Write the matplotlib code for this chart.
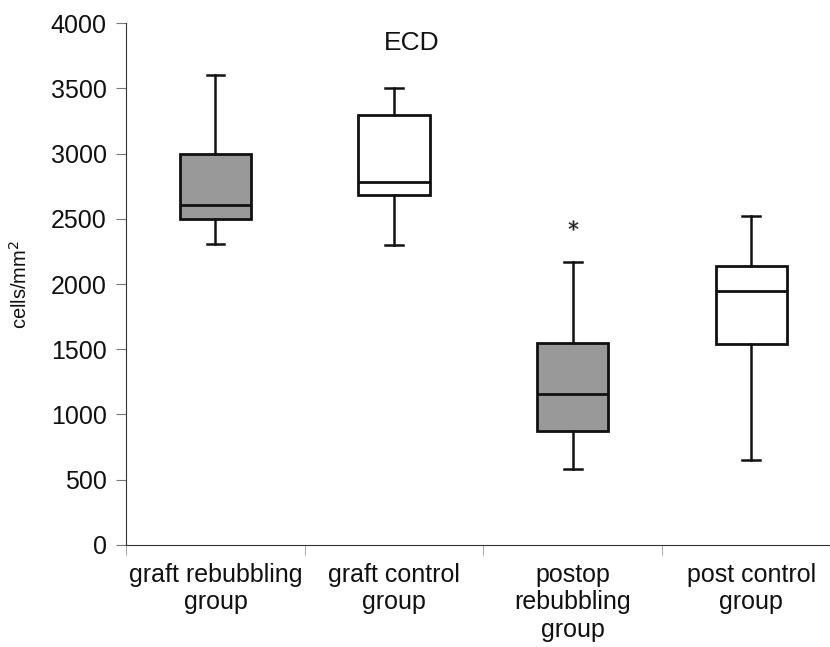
import matplotlib
matplotlib.use("Agg")
import matplotlib.pyplot as plt

plt.rcParams["font.family"] = ["Liberation Sans", "DejaVu Sans"]

# group names and box statistics (cells/mm2)
groups = ["graft rebubbling\ngroup", "graft control\ngroup",
          "postop\nrebubbling\ngroup", "post control\ngroup"]
whisker_low = [2310, 2300, 580, 650]
q1 = [2500, 2680, 870, 1540]
median = [2610, 2780, 1160, 1950]
q3 = [3000, 3300, 1545, 2135]
whisker_high = [3600, 3500, 2170, 2520]
outliers = [[], [], [2450], []]
fills = ["#999999", "white", "#999999", "white"]

stats = []
for i in range(len(groups)):
    stats.append({"whislo": whisker_low[i], "q1": q1[i], "med": median[i],
                  "q3": q3[i], "whishi": whisker_high[i], "fliers": outliers[i]})

fig = plt.figure(figsize=(8.3, 6.47), dpi=100)
ax = fig.add_axes([0.152, 0.158, 0.848, 0.806])

positions = [1, 2, 3, 4]
bp = ax.bxp(stats, positions=positions, widths=0.4, patch_artist=True,
            showfliers=True, capwidths=0.1,
            boxprops=dict(linewidth=2, edgecolor="#111111"),
            medianprops=dict(color="#111111", linewidth=2),
            whiskerprops=dict(color="#111111", linewidth=1.8),
            capprops=dict(color="#111111", linewidth=1.8),
            flierprops=dict(marker="$*$", markersize=7, markeredgewidth=0.3,
                            markerfacecolor="#222222", markeredgecolor="#222222"))
for patch, c in zip(bp["boxes"], fills):
    patch.set_facecolor(c)

ax.set_xlim(0.5, 4.44)
ax.set_ylim(0, 4000)
ax.set_yticks(range(0, 4001, 500))
ax.tick_params(axis="y", labelsize=18, length=7, color="#777777", pad=7,
               labelcolor="#111111")

# category labels between minor ticks at boundaries
ax.set_xticks(positions)
ax.set_xticklabels(groups, fontsize=18, linespacing=1.18, color="#111111")
ax.tick_params(axis="x", length=0, pad=13)
ax.set_xticks([0.5, 1.5, 2.5, 3.5], minor=True)
ax.tick_params(axis="x", which="minor", length=7, color="#999999")

for side in ["top", "right"]:
    ax.spines[side].set_visible(False)
ax.spines["left"].set_color("#333333")
ax.spines["bottom"].set_color("#333333")

ax.set_ylabel("cells/mm$^2$", fontsize=14.5, labelpad=14, color="#111111")
ax.text(0.405, 0.985, "ECD", transform=ax.transAxes, ha="center", va="top",
        fontsize=19, color="#111111")

fig.savefig("out.png", dpi=100)
